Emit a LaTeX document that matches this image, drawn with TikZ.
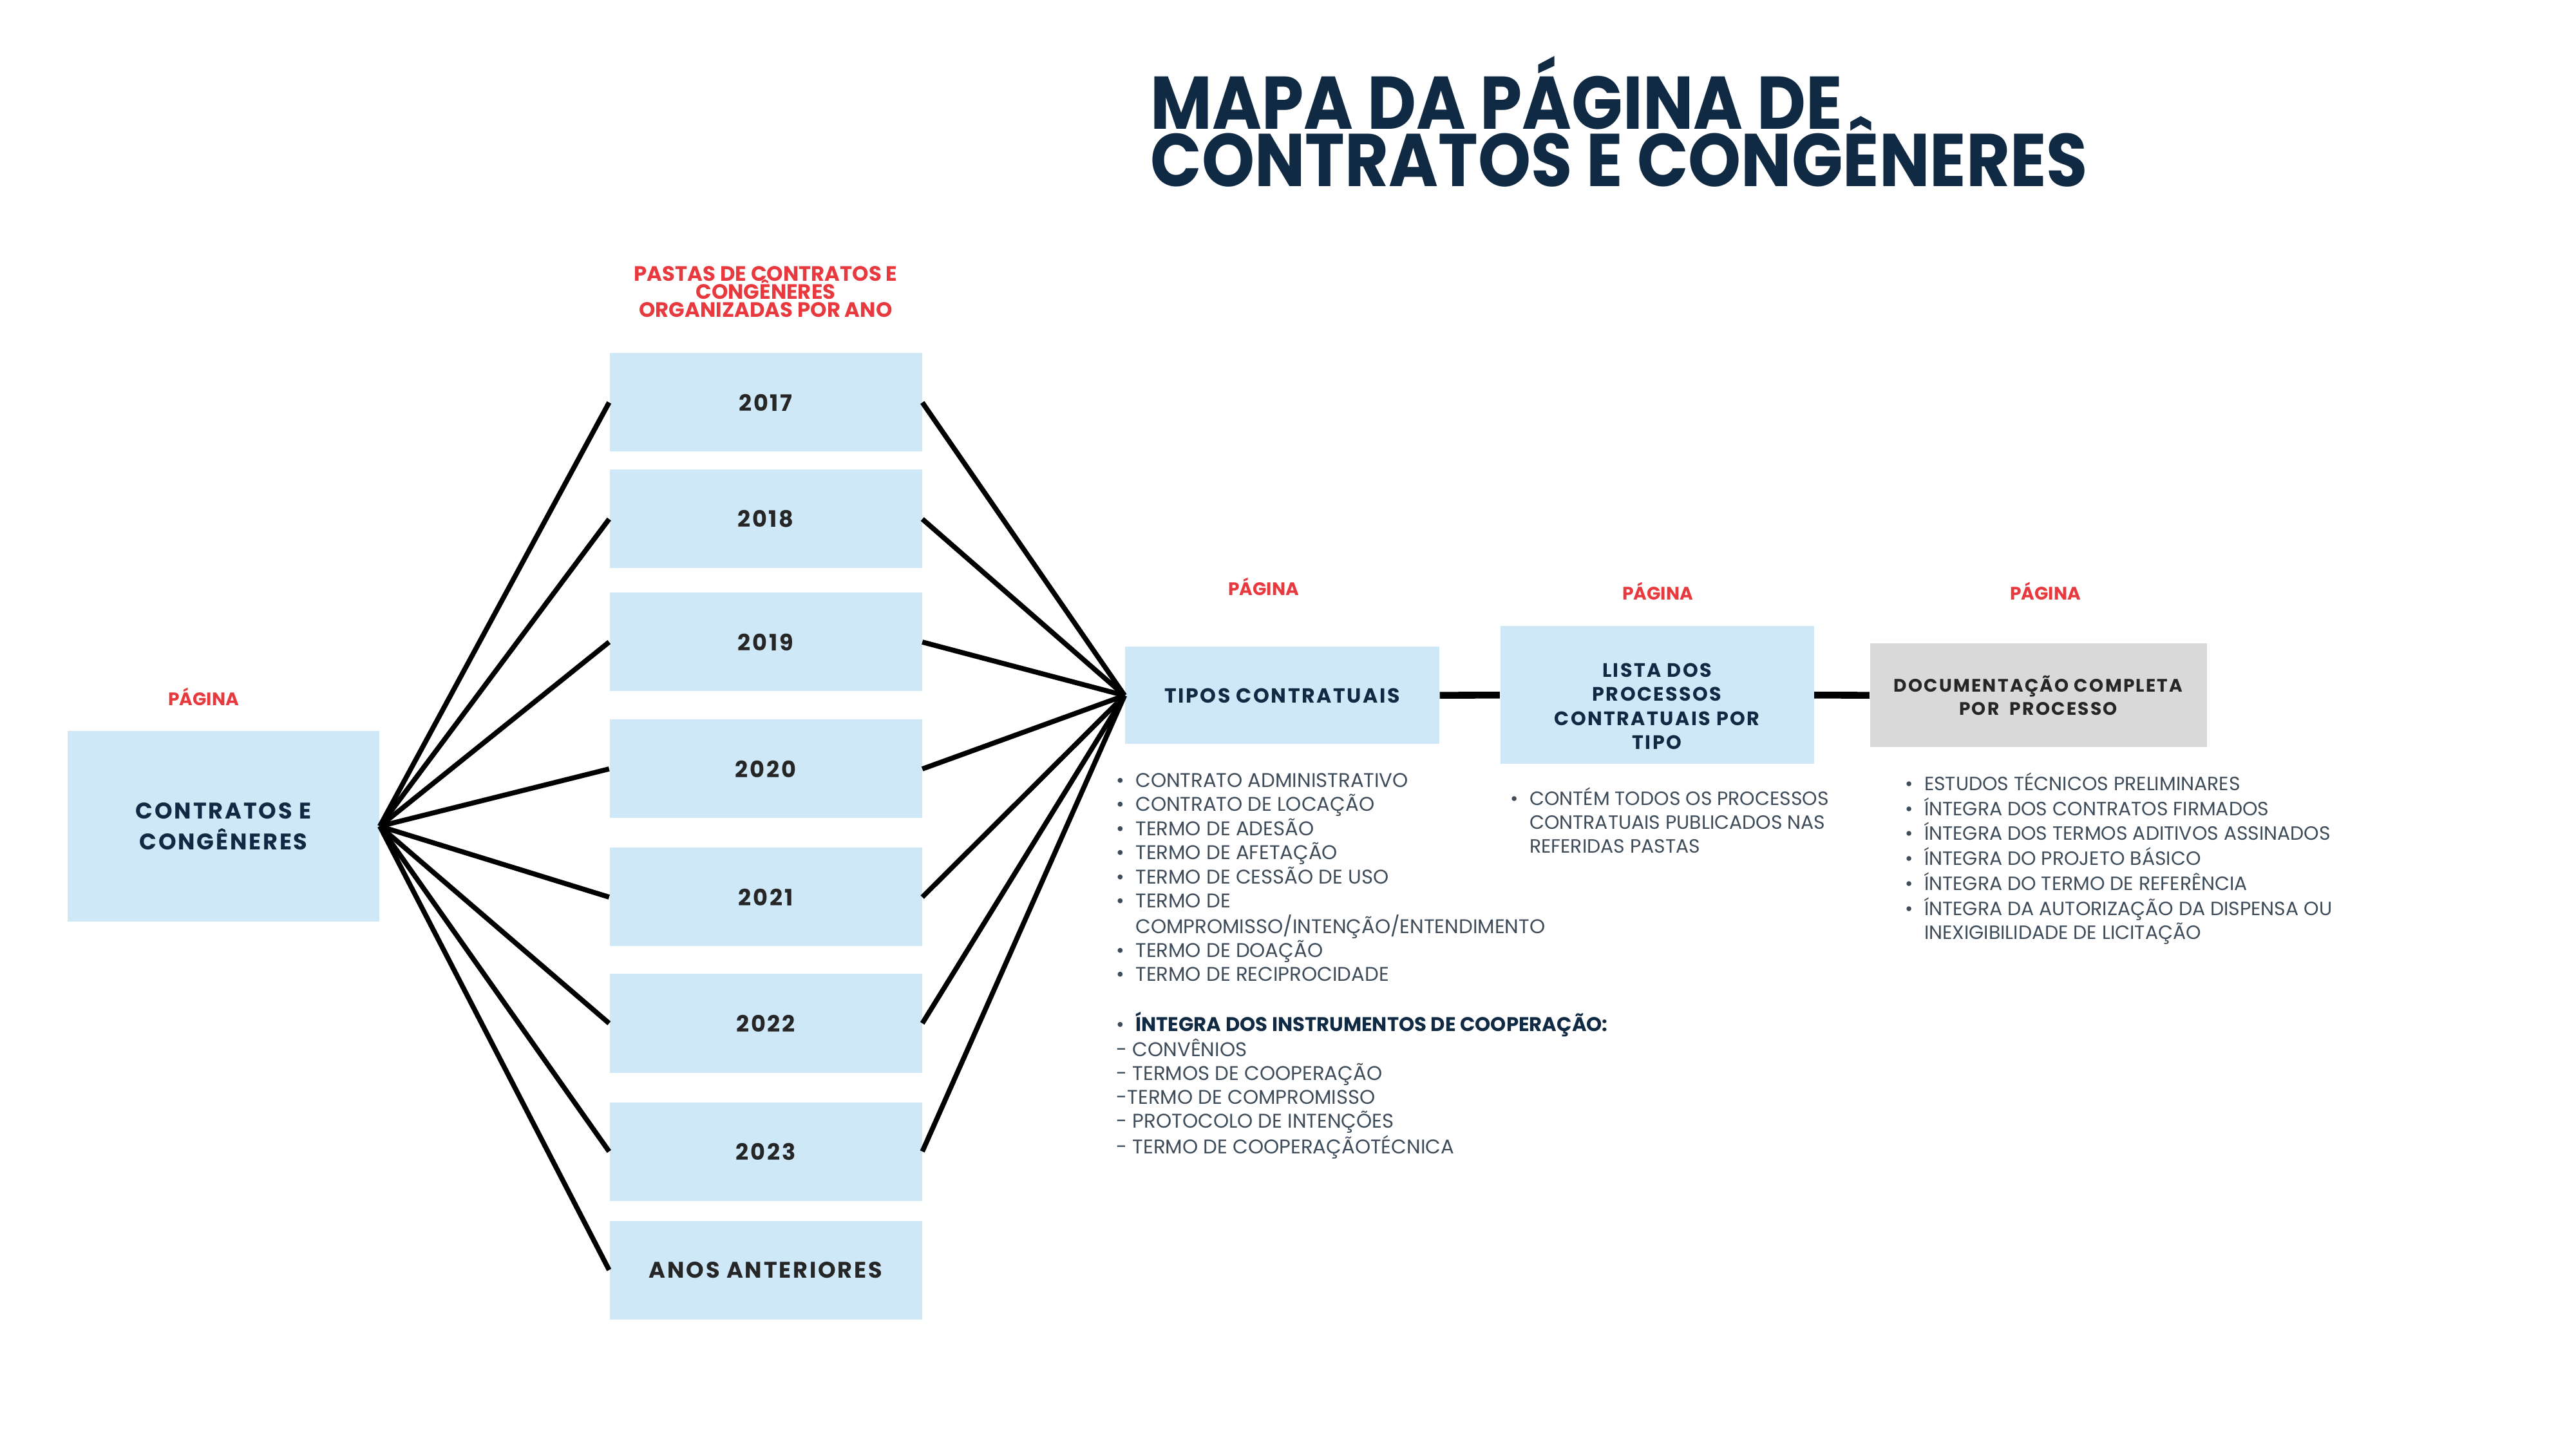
\documentclass[tikz,border=0pt]{standalone}
\usepackage{fontspec}
\setmainfont{Poppins}
\newfontfamily\boxfont[LetterSpace=8]{Poppins}
\newfontfamily\titlefont[FakeStretch=0.9]{Poppins}
\usetikzlibrary{positioning}
\definecolor{PaleSky}{HTML}{CFE8F8}
\definecolor{SoftGrey}{HTML}{D9D9D9}
\definecolor{InkNavy}{HTML}{102A43}
\definecolor{LabelRed}{HTML}{E8393F}
\definecolor{ListGrey}{HTML}{3E4C5A}
\newcommand\tightlines{\setlength{\lineskiplimit}{-20pt}}

\begin{document}
\begin{tikzpicture}[
  box/.style={fill=PaleSky, minimum width=4.85cm, minimum height=1.53cm, inner sep=0pt,
              align=center, text=InkNavy, font=\boxfont\bfseries\fontsize{9}{10.5}\selectfont},
  yearbox/.style={box, text=black!85, font=\boxfont\bfseries\fontsize{10}{12}\selectfont},
  redlabel/.style={text=LabelRed, align=center, inner sep=0pt, font=\bfseries\fontsize{8}{8.3}\selectfont},
  listtxt/.style={text=ListGrey, inner sep=0pt, anchor=north west, font=\fontsize{8.5}{10.5}\selectfont},
  titletxt/.style={text=InkNavy, inner sep=0pt, align=left, anchor=north west,
                   font=\titlefont\bfseries\fontsize{33}{25.3}\selectfont\tightlines},
  link/.style={line width=2.2pt, draw=black},
  bar/.style={line width=3pt, draw=black}
]
\useasboundingbox (0,0) rectangle (40,-22.5);

\node[titletxt] (title) at (17.86,-0.87) {MAPA DA PÁGINA DE\\CONTRATOS E CONGÊNERES};

% left page
\node[box, minimum width=4.84cm, minimum height=2.96cm, font=\boxfont\bfseries\fontsize{10}{13.8}\selectfont]
  (main) at (3.47,-12.83) {CONTRATOS E\\CONGÊNERES};
\node[redlabel] (pgmain) at (3.16,-10.82) {PÁGINA};

% folders by year
\node[redlabel, font=\bfseries\fontsize{9.2}{8}\selectfont\tightlines] (pastas) at (11.89,-4.53)
  {PASTAS DE CONTRATOS E\\CONGÊNERES\\ORGANIZADAS POR ANO};
\node[yearbox] (y17) at (11.89,-6.25) {2017};
\node[yearbox] (y18) at (11.89,-8.06) {2018};
\node[yearbox] (y19) at (11.89,-9.97) {2019};
\node[yearbox] (y20) at (11.89,-11.94) {2020};
\node[yearbox] (y21) at (11.89,-13.93) {2021};
\node[yearbox] (y22) at (11.89,-15.89) {2022};
\node[yearbox] (y23) at (11.89,-17.88) {2023};
\node[yearbox] (anos) at (11.89,-19.72) {ANOS ANTERIORES};

% chain of pages
\node[box, minimum width=4.88cm, minimum height=1.51cm] (tipos) at (19.91,-10.80) {TIPOS CONTRATUAIS};
\node[box, minimum width=4.87cm, minimum height=2.14cm, font=\boxfont\bfseries\fontsize{8.6}{10.6}\selectfont]
  (lista) at (25.73,-10.79) {\mbox{}\\[0.2cm]LISTA DOS\\PROCESSOS\\CONTRATUAIS POR\\TIPO};
\node[box, fill=SoftGrey, text=black!85, minimum width=5.23cm, minimum height=1.61cm,
      font=\boxfont\bfseries\fontsize{8}{10.5}\selectfont] (doc) at (31.65,-10.80)
  {DOCUMENTAÇÃO COMPLETA\\POR\ \ PROCESSO};
\node[redlabel] (pgtipos) at (19.62,-9.11) {PÁGINA};
\node[redlabel] (pglista) at (25.74,-9.18) {PÁGINA};
\node[redlabel] (pgdoc) at (31.76,-9.18) {PÁGINA};

\draw[link] (main.east) -- (y17.west) (y17.east) -- (tipos.west);
\draw[link] (main.east) -- (y18.west) (y18.east) -- (tipos.west);
\draw[link] (main.east) -- (y19.west) (y19.east) -- (tipos.west);
\draw[link] (main.east) -- (y20.west) (y20.east) -- (tipos.west);
\draw[link] (main.east) -- (y21.west) (y21.east) -- (tipos.west);
\draw[link] (main.east) -- (y22.west) (y22.east) -- (tipos.west);
\draw[link] (main.east) -- (y23.west) (y23.east) -- (tipos.west);
\draw[link] (main.east) -- (anos.west);
\draw[bar] (tipos) -- (lista);
\draw[bar] (lista) -- (doc);

% contents of each page
\node[listtxt, font=\fontsize{8.75}{10.5}\selectfont] (tiposlist) at (17.33,-11.96) {%
  \begin{tabular}{@{}l@{\hspace{0.17cm}}l@{}}
  \textbullet & CONTRATO ADMINISTRATIVO\\
  \textbullet & CONTRATO DE LOCAÇÃO\\
  \textbullet & TERMO DE ADESÃO\\
  \textbullet & TERMO DE AFETAÇÃO\\
  \textbullet & TERMO DE CESSÃO DE USO\\
  \textbullet & TERMO DE\\
              & COMPROMISSO/INTENÇÃO/ENTENDIMENTO\\
  \textbullet & TERMO DE DOAÇÃO\\
  \textbullet & TERMO DE RECIPROCIDADE\\
              & \\
  \textbullet & \textcolor{InkNavy}{\bfseries ÍNTEGRA DOS INSTRUMENTOS DE COOPERAÇÃO:}\\
  \multicolumn{2}{@{}l@{}}{- CONVÊNIOS}\\
  \multicolumn{2}{@{}l@{}}{- TERMOS DE COOPERAÇÃO}\\
  \multicolumn{2}{@{}l@{}}{-TERMO DE COMPROMISSO}\\
  \multicolumn{2}{@{}l@{}}{- PROTOCOLO DE INTENÇÕES}\\
  \multicolumn{2}{@{}l@{}}{- TERMO DE COOPERAÇÃOTÉCNICA}
  \end{tabular}};
\node[listtxt] (listalist) at (23.45,-12.22) {%
  \begin{tabular}{@{}l@{\hspace{0.17cm}}l@{}}
  \textbullet & CONTÉM TODOS OS PROCESSOS\\
              & CONTRATUAIS PUBLICADOS NAS\\
              & REFERIDAS PASTAS
  \end{tabular}};
\node[listtxt] (doclist) at (29.58,-11.99) {%
  \begin{tabular}{@{}l@{\hspace{0.17cm}}l@{}}
  \textbullet & ESTUDOS TÉCNICOS PRELIMINARES\\
  \textbullet & ÍNTEGRA DOS CONTRATOS FIRMADOS\\
  \textbullet & ÍNTEGRA DOS TERMOS ADITIVOS ASSINADOS\\
  \textbullet & ÍNTEGRA DO PROJETO BÁSICO\\
  \textbullet & ÍNTEGRA DO TERMO DE REFERÊNCIA\\
  \textbullet & ÍNTEGRA DA AUTORIZAÇÃO DA DISPENSA OU\\
              & INEXIGIBILIDADE DE LICITAÇÃO
  \end{tabular}};
\end{tikzpicture}
\end{document}
